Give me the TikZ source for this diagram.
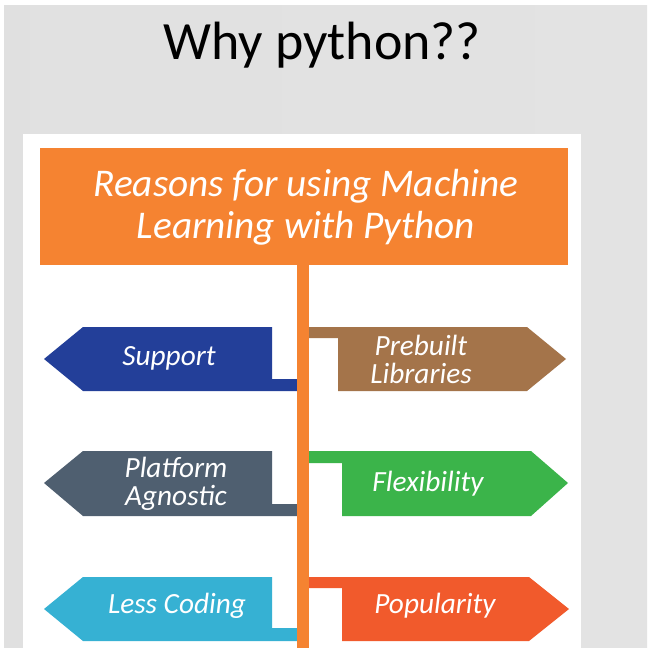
\documentclass[tikz,border=0pt]{standalone}
\usepackage{fontspec}
\setmainfont{Carlito}
\usetikzlibrary{calc}
\definecolor{headorange}{HTML}{F58331}
\definecolor{supportblue}{HTML}{233F99}
\definecolor{prebuiltbrown}{HTML}{A4744A}
\definecolor{platformslate}{HTML}{4F5F70}
\definecolor{flexgreen}{HTML}{3BB44A}
\definecolor{codingcyan}{HTML}{36B1D3}
\definecolor{popularred}{HTML}{F15A2C}
\tikzset{
	signtext/.style={text=white, align=center, font=\itshape\fontsize{25}{24}\selectfont},
	headtext/.style={text=white, align=center, font=\itshape\fontsize{33.5}{35.5}\selectfont}
}

\begin{document}
\begin{tikzpicture}[x=0.03cm, y=-0.03cm]
		%%%%% BACKGROUND %%%%%
		\useasboundingbox (0, 0) rectangle (647, 648);
		\fill[white] (0, 0) rectangle (647, 648);
		\shade[left color=black!12, middle color=black!4, right color=black!11] (4, 6) rectangle (647, 648);
		\fill[white] (23, 134) rectangle (581, 648);
		
		\node (title) at (322, 45) {\fontsize{46}{46}\selectfont Why python??};
		
		%%%%% HEADER %%%%%
		\fill[headorange] (40, 148) rectangle (568, 265);
		\node[headtext] (head) at (306, 207) {Reasons for using Machine\\Learning with Python};
		
		%%%%% LEFT SIGNS %%%%%
		\fill[supportblue] (44, 359) -- (83, 327) -- (272, 327) -- (272, 379) -- (297, 379) -- (297, 391) -- (83, 391) -- cycle;
		\node[signtext] (support) at (169, 358) {Support};
		
		\fill[platformslate] (44, 483) -- (83, 451) -- (272, 451) -- (272, 504) -- (297, 504) -- (297, 516) -- (83, 516) -- cycle;
		\node[signtext] (platform) at (176, 484) {Platform\\Agnostic};
		
		\fill[codingcyan] (44, 609) -- (83, 577) -- (272, 577) -- (272, 628) -- (297, 628) -- (297, 641) -- (83, 641) -- cycle;
		\node[signtext] (coding) at (177, 606) {Less Coding};
		
		%%%%% RIGHT SIGNS %%%%%
		\fill[prebuiltbrown] (309, 327) -- (527, 327) -- (566, 359) -- (527, 391) -- (338, 391) -- (338, 338) -- (309, 338) -- cycle;
		\node[signtext] (prebuilt) at (421, 359) {Prebuilt\\Libraries};
		
		\fill[flexgreen] (309, 451) -- (531, 451) -- (568, 483) -- (531, 516) -- (342, 516) -- (342, 463) -- (309, 463) -- cycle;
		\node[signtext] (flex) at (428, 484) {Flexibility};
		
		\fill[popularred] (309, 577) -- (529, 577) -- (569, 609) -- (529, 641) -- (342, 641) -- (342, 588) -- (309, 588) -- cycle;
		\node[signtext] (popular) at (435, 606) {Popularity};
		
		%%%%% POLE %%%%%
		\fill[headorange] (297, 265) rectangle (309, 648);
		
	\end{tikzpicture}
\end{document}
